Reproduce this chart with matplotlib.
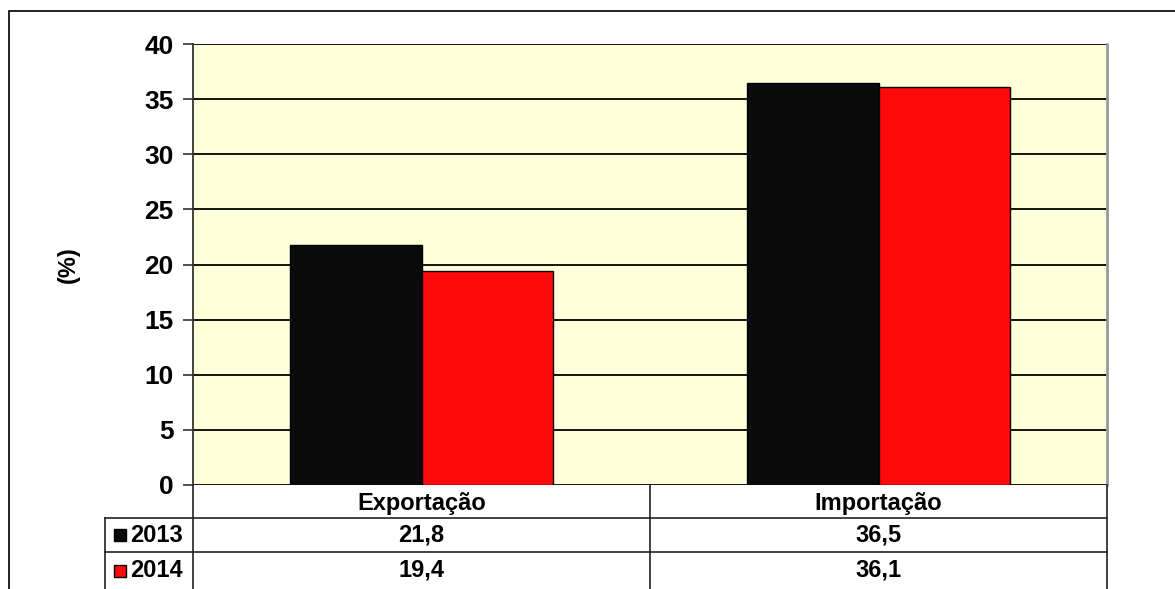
import matplotlib
matplotlib.use("Agg")
import matplotlib.pyplot as plt
from matplotlib.patches import Rectangle
from matplotlib.lines import Line2D

categories = ["Exportação", "Importação"]
series_names = ["2013", "2014"]
values_2013 = [21.8, 36.5]
values_2014 = [19.4, 36.1]
colors = ["#0a0a0a", "#ff0a0a"]
y_ticks = [0, 5, 10, 15, 20, 25, 30, 35, 40]

W, H = 1175, 589
fig = plt.figure(figsize=(W / 100, H / 100), dpi=100)
plt.rcParams["font.family"] = ["Liberation Sans", "DejaVu Sans"]


def fx(px):
    return px / W


def fy(py):
    return 1 - py / H


# outer chart frame
fig.add_artist(Rectangle((fx(9), fy(600)), fx(1180) - fx(9), fy(11) - fy(600),
                         transform=fig.transFigure, fill=False,
                         edgecolor="black", linewidth=1.2, clip_on=False))

left, right, top, bottom = 193, 1107, 44, 485
ax = fig.add_axes([fx(left), fy(bottom), fx(right) - fx(left), fy(top) - fy(bottom)])
ax.set_facecolor("#ffffd9")

n = len(categories)
bw = 0.287
xs = list(range(n))
series = [values_2013, values_2014]
for i, vals in enumerate(series):
    ax.bar([x + (i - 0.5) * bw for x in xs], vals, width=bw, color=colors[i],
           edgecolor="black", linewidth=1.0, zorder=3)

ax.set_xlim(-0.5, n - 0.5)
ax.set_ylim(0, 40)
ax.set_yticks(y_ticks)
ax.set_yticklabels([str(t) for t in y_ticks], fontsize=19, fontweight="bold")
ax.set_xticks([])
ax.yaxis.grid(True, color="black", linewidth=1.3, zorder=1)
ax.set_axisbelow(True)
ax.tick_params(axis="y", length=7, width=1.2, color="#333333", pad=7)
for side in ["top", "bottom"]:
    ax.spines[side].set_visible(False)
ax.spines["left"].set_color("#333333")
ax.spines["left"].set_linewidth(1.3)
ax.spines["right"].set_color("#999999")
ax.spines["right"].set_linewidth(2)
ax.set_ylabel("(%)", fontsize=17, fontweight="bold", labelpad=46)

# data table under the plot
row_lines = [485, 518, 552, 589]
col_lines = [105, 193, 650, 1107]
lc = "#222222"
lw = 1.2


def hline(y, x0, x1):
    fig.add_artist(Line2D([fx(x0), fx(x1)], [fy(y), fy(y)], transform=fig.transFigure,
                          color=lc, linewidth=lw))


def vline(x, y0, y1):
    fig.add_artist(Line2D([fx(x), fx(x)], [fy(y0), fy(y1)], transform=fig.transFigure,
                          color=lc, linewidth=lw))


hline(row_lines[1], col_lines[0], col_lines[3])
hline(row_lines[2], col_lines[0], col_lines[3])
vline(col_lines[0], row_lines[1], 600)
vline(col_lines[1], row_lines[0], 600)
vline(col_lines[2], row_lines[0], 600)
vline(col_lines[3], row_lines[0], 600)

for j, cat in enumerate(categories):
    cx = (col_lines[j + 1] + col_lines[j + 2]) / 2
    cy = (row_lines[0] + row_lines[1]) / 2 + 2
    fig.text(fx(cx), fy(cy), cat, ha="center", va="center", fontsize=17, fontweight="bold")
    for i, vals in enumerate(series):
        cy = (row_lines[i + 1] + row_lines[i + 2]) / 2
        fig.text(fx(cx), fy(cy), f"{vals[j]:.1f}".replace(".", ","), ha="center",
                 va="center", fontsize=17, fontweight="bold")

for i, name in enumerate(series_names):
    cy = (row_lines[i + 1] + row_lines[i + 2]) / 2
    fig.add_artist(Rectangle((fx(114), fy(cy + 6)), fx(12), fy(0) - fy(12),
                             transform=fig.transFigure, facecolor=colors[i],
                             edgecolor="black", linewidth=1.0))
    fig.text(fx(130), fy(cy), name, ha="left", va="center", fontsize=17, fontweight="bold")

fig.savefig("out.png", dpi=100, facecolor="white")
